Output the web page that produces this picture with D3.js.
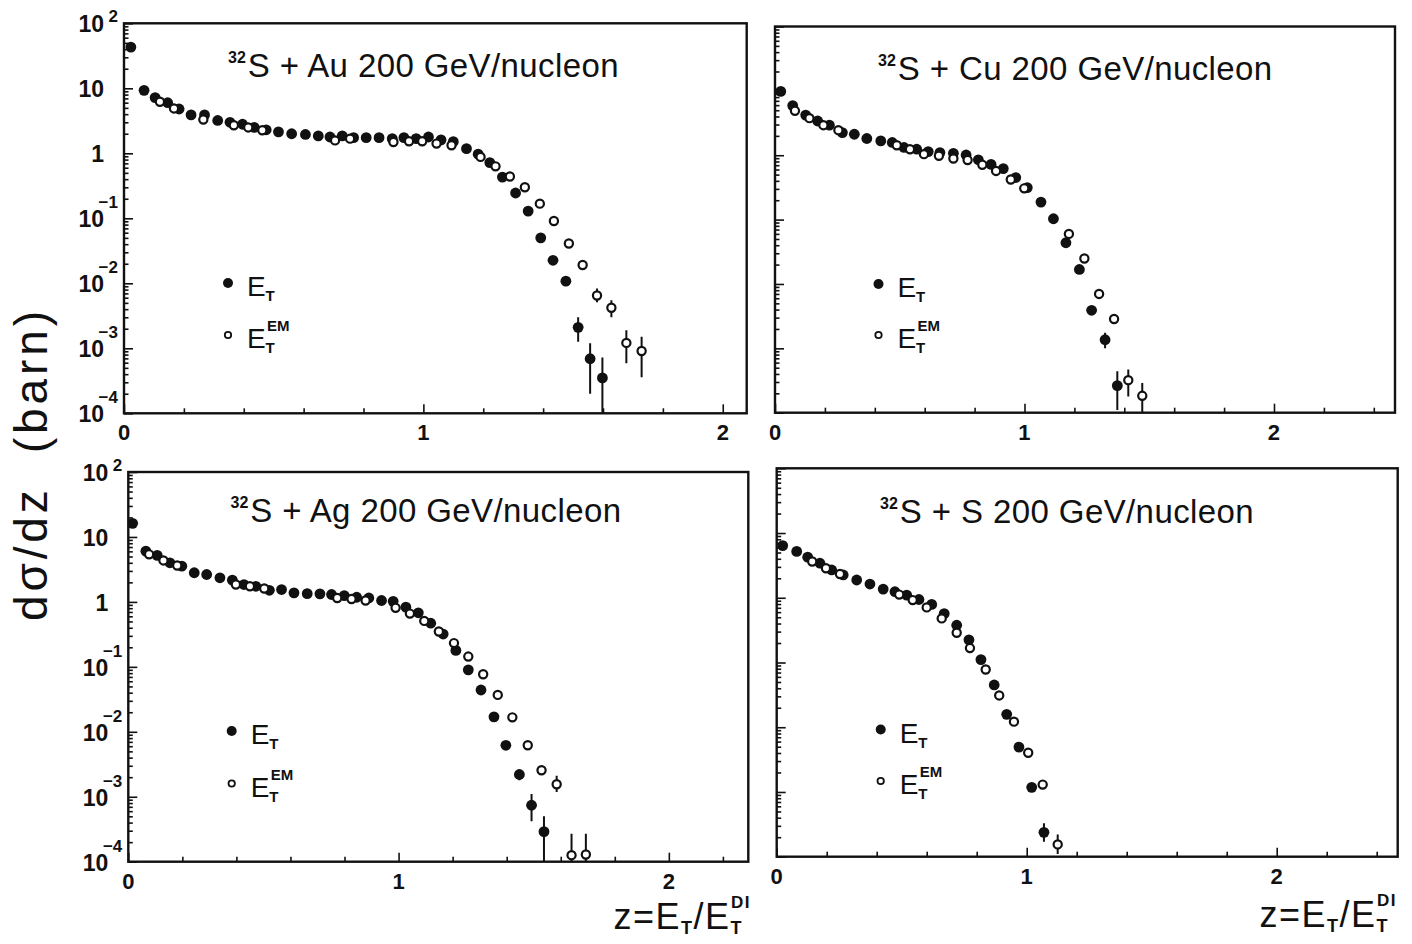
<!DOCTYPE html>
<html><head><meta charset="utf-8">
<script src="https://cdn.jsdelivr.net/npm/d3@7"></script>
<style>body{margin:0;background:#fff;} svg{display:block;}</style>
</head><body>
<svg id="c" width="1412" height="944"></svg>
<script>
// ---------------- data ----------------
const panelKeys = ["Au", "Cu", "Ag", "S"];
const panelTitles = ["S + Au 200 GeV/nucleon", "S + Cu 200 GeV/nucleon", "S + Ag 200 GeV/nucleon", "S + S 200 GeV/nucleon"];
const projectileMass = "32";
const yTickExponents = [-4, -3, -2, -1, 0, 1, 2];
const xTickValues = [0, 1, 2];
const seriesNames = ["E", "EM"];

// 32S + Au
const auEtZ = [0.023,0.067,0.104,0.146,0.184,0.224,0.269,0.313,0.354,0.396,0.435,0.475,0.516,0.56,0.606,0.649,0.688,0.729,0.767,0.809,0.852,0.896,0.935,0.976,1.017,1.059,1.1,1.144,1.183,1.222,1.264,1.308,1.35,1.392,1.433,1.476,1.517,1.557,1.598];
const auEtY = [43,9.3,7.2,6.0,4.8,3.9,3.9,3.2,3.0,2.8,2.5,2.3,2.14,2.0,1.95,1.85,1.78,1.85,1.74,1.74,1.74,1.68,1.74,1.68,1.78,1.61,1.51,1.18,0.97,0.72,0.43,0.245,0.129,0.050,0.0226,0.0108,0.0021,0.00069,0.00035];
const auEtErr = {35:[0.0094,0.0124], 36:[0.00126,0.0030], 37:[0.0002,0.0012], 38:[0.00003,0.00072]};
const auEmZ = [0.12,0.167,0.265,0.367,0.415,0.462,0.705,0.755,0.9,0.952,0.996,1.044,1.094,1.191,1.241,1.289,1.339,1.389,1.436,1.486,1.532,1.58,1.628,1.678,1.729];
const auEmY = [6.2,4.9,3.3,2.7,2.5,2.26,1.58,1.68,1.49,1.53,1.53,1.41,1.33,0.88,0.63,0.44,0.30,0.168,0.091,0.041,0.0191,0.0065,0.0042,0.00121,0.00091];
const auEmErr = {21:[0.0051,0.0083], 22:[0.0030,0.0055], 23:[0.00059,0.0019], 24:[0.00036,0.0015]};

// 32S + Cu
const cuEtZ = [0.023,0.071,0.123,0.171,0.218,0.27,0.318,0.368,0.424,0.47,0.517,0.568,0.614,0.661,0.715,0.766,0.815,0.866,0.915,0.965,1.011,1.066,1.116,1.166,1.22,1.269,1.323,1.372];
const cuEtY = [9.8,5.9,4.2,3.4,2.93,2.25,2.12,1.82,1.67,1.58,1.32,1.24,1.14,1.10,1.07,1.01,0.85,0.72,0.62,0.45,0.314,0.187,0.103,0.0437,0.0168,0.0039,0.00136,0.000264];
const cuEtErr = {26:[0.00100,0.00174], 27:[0.00011,0.00044]};
const cuEmZ = [0.08,0.138,0.194,0.254,0.488,0.541,0.597,0.657,0.715,0.772,0.831,0.886,0.945,0.999,1.178,1.24,1.299,1.359,1.416,1.472];
const cuEmY = [4.9,3.77,2.93,2.45,1.43,1.24,1.04,0.98,0.89,0.84,0.71,0.57,0.42,0.306,0.060,0.0249,0.0070,0.00286,0.00032,0.000183];
const cuEmErr = {18:[0.000178,0.00047], 19:[0.00003,0.00029]};

// 32S + Ag
const agEtZ = [0.016,0.065,0.107,0.154,0.198,0.244,0.29,0.339,0.385,0.428,0.472,0.522,0.567,0.613,0.662,0.709,0.752,0.799,0.845,0.89,0.937,0.98,1.027,1.073,1.119,1.165,1.212,1.258,1.305,1.353,1.397,1.447,1.492,1.538];
const agEtY = [16.2,6.05,5.2,4.0,3.55,2.81,2.64,2.35,2.16,1.85,1.74,1.51,1.55,1.38,1.34,1.33,1.30,1.25,1.18,1.15,1.05,1.02,0.83,0.68,0.47,0.32,0.179,0.090,0.044,0.017,0.0062,0.0022,0.00074,0.00029];
const agEtErr = {31:[0.0018,0.0026], 32:[0.00042,0.0011], 33:[0.00003,0.0005]};
const agEmZ = [0.077,0.13,0.181,0.398,0.45,0.503,0.773,0.826,0.878,0.989,1.042,1.095,1.149,1.205,1.258,1.313,1.367,1.421,1.478,1.529,1.585,1.64,1.693];
const agEmY = [5.4,4.35,3.64,1.85,1.74,1.61,1.15,1.11,1.05,0.81,0.66,0.51,0.35,0.232,0.144,0.077,0.037,0.0167,0.0062,0.00256,0.00156,0.000126,0.000129];
const agEmErr = {19:[0.0022,0.0030], 20:[0.00118,0.0021], 21:[0.00003,0.00027], 22:[0.00003,0.00027]};

// 32S + S
const sEtZ = [0.024,0.08,0.124,0.173,0.22,0.266,0.32,0.373,0.426,0.473,0.52,0.569,0.62,0.67,0.72,0.769,0.817,0.87,0.92,0.969,1.02,1.069];
const sEtY = [6.4,5.2,4.24,3.42,2.69,2.25,1.88,1.63,1.36,1.24,1.10,0.94,0.79,0.57,0.376,0.224,0.111,0.045,0.0158,0.00494,0.00118,0.000238];
const sEtErr = {21:[0.00017,0.00033]};
const sEmZ = [0.142,0.197,0.253,0.49,0.544,0.6,0.66,0.72,0.773,0.836,0.89,0.949,1.006,1.064,1.124];
const sEmY = [3.63,2.86,2.33,1.12,0.92,0.71,0.48,0.288,0.167,0.078,0.031,0.0122,0.00403,0.0013,0.000155];
const sEmErr = {14:[0.00011,0.00022]};

// ---------------- layout (positions / styles) ----------------
const layout = {
  Au: {x0:124,   x1:746.7,  xmax:2.08,  yTop:23.3,  yBot:413.3, yLabels:true,  tx:228,   ty:77,  lx:228,   ly1:283,   ly2:335,   xt:null},
  Cu: {x0:775,   x1:1395,   xmax:2.485, yTop:26.5,  yBot:412.7, yLabels:false, tx:878,   ty:80,  lx:878.5, ly1:284,   ly2:335,   xt:null},
  Ag: {x0:128.3, x1:748.3,  xmax:2.294, yTop:472,   yBot:861.7, yLabels:true,  tx:230.5, ty:522, lx:231.7, ly1:731,   ly2:783.5, xt:{r:751, y:929}},
  S:  {x0:776.7, x1:1397.7, xmax:2.484, yTop:468.3, yBot:856.7, yLabels:false, tx:880,   ty:523, lx:880.7, ly1:729.5, ly2:781,   xt:{r:1397, y:927}}
};
const seriesData = {
  Au: [[auEtZ, auEtY, auEtErr], [auEmZ, auEmY, auEmErr]],
  Cu: [[cuEtZ, cuEtY, cuEtErr], [cuEmZ, cuEmY, cuEmErr]],
  Ag: [[agEtZ, agEtY, agEtErr], [agEmZ, agEmY, agEmErr]],
  S:  [[sEtZ, sEtY, sEtErr],    [sEmZ, sEmY, sEmErr]]
};

const FONT = "'Liberation Sans', Arial, Helvetica, sans-serif";
const INK = "#111";
const svg = d3.select("#c").attr("font-family", FONT);
svg.append("rect").attr("width",1412).attr("height",944).attr("fill","#fff");

panelKeys.forEach((k, pi) => {
  const L = layout[k];
  const x = d3.scaleLinear().domain([0, L.xmax]).range([L.x0, L.x1]);
  const y = d3.scaleLog().domain([1e-4, 1e2]).range([L.yBot, L.yTop]).clamp(true);
  const g = svg.append("g");

  // y ticks (inward)
  const yMajor = yTickExponents.map(e => Math.pow(10, e));
  const yMinor = [];
  for (let e = -4; e < 2; e++) for (let m = 2; m <= 9; m++) yMinor.push(m * Math.pow(10, e));
  g.append("g").attr("transform", `translate(${L.x0},0)`)
    .call(d3.axisLeft(y).tickValues(yMinor).tickSizeInner(-4.5).tickSizeOuter(0).tickFormat(""));
  g.append("g").attr("transform", `translate(${L.x0},0)`)
    .call(d3.axisLeft(y).tickValues(yMajor).tickSizeInner(-9).tickSizeOuter(0).tickFormat(""));

  // x ticks (inward)
  const nStep = Math.floor(L.xmax * 5 + 1e-6);
  const xMinor = d3.range(1, nStep + 1).filter(i => i % 5 !== 0).map(i => i / 5);
  const xMajor = xTickValues.filter(v => v <= L.xmax);
  g.append("g").attr("transform", `translate(0,${L.yBot})`)
    .call(d3.axisBottom(x).tickValues(xMinor).tickSizeInner(-5).tickSizeOuter(0).tickFormat(""));
  g.append("g").attr("transform", `translate(0,${L.yBot})`)
    .call(d3.axisBottom(x).tickValues(xMajor).tickSizeInner(-9).tickSizeOuter(0).tickFormat(""));
  g.selectAll(".domain").remove();
  g.selectAll(".tick line").attr("stroke", INK).attr("stroke-width", 1.6);

  // frame
  g.append("rect").attr("x", L.x0).attr("y", L.yTop)
    .attr("width", L.x1 - L.x0).attr("height", L.yBot - L.yTop)
    .attr("fill", "none").attr("stroke", INK).attr("stroke-width", 2.4);

  // x tick labels
  xMajor.forEach(v => {
    g.append("text").attr("x", x(v)).attr("y", L.yBot + 27)
      .attr("text-anchor", "middle").attr("font-size", 22).attr("font-weight", "bold")
      .attr("fill", INK).text(v);
  });

  // y tick labels
  if (L.yLabels) {
    yTickExponents.forEach(e => {
      const ty = y(Math.pow(10, e));
      g.append("text").attr("x", L.x0 - 20).attr("y", ty + 9)
        .attr("text-anchor", "end").attr("font-size", 23).attr("font-weight", "bold")
        .attr("fill", INK).text(e === 0 ? "1" : "10");
      if (e !== 0 && e !== 1) {
        g.append("text").attr("x", L.x0 - 6).attr("y", ty + (e > 0 ? -1 : -10))
          .attr("text-anchor", "end").attr("font-size", 17).attr("font-weight", "bold")
          .attr("fill", INK).text(e < 0 ? "\u2212" + (-e) : String(e));
      }
    });
  }

  // title
  const tt = g.append("text").attr("x", L.tx).attr("y", L.ty).attr("fill", INK);
  tt.append("tspan").attr("font-size", 16).attr("font-weight", "bold").attr("dy", -14).text(projectileMass);
  tt.append("tspan").attr("font-size", 33).attr("dx", 2).attr("dy", 14)
    .style("letter-spacing", "0.4px").text(panelTitles[pi]);

  // data
  const clip = "clip-" + k;
  svg.append("clipPath").attr("id", clip).append("rect")
    .attr("x", L.x0).attr("y", L.yTop).attr("width", L.x1 - L.x0).attr("height", L.yBot - L.yTop);
  const dg = g.append("g").attr("clip-path", `url(#${clip})`);
  seriesData[k].forEach((s, si) => {
    const [zs, ys, errs] = s;
    const pts = zs.map((z, i) => ({z, v: ys[i], e: errs[i] || null}));
    dg.selectAll(null).data(pts.filter(p => p.e)).enter().append("line")
      .attr("x1", p => x(p.z)).attr("x2", p => x(p.z))
      .attr("y1", p => y(p.e[0])).attr("y2", p => y(p.e[1]))
      .attr("stroke", INK).attr("stroke-width", 2);
    const c = dg.selectAll(null).data(pts).enter().append("circle")
      .attr("cx", p => x(p.z)).attr("cy", p => y(p.v));
    if (si === 0) c.attr("r", 5.4).attr("fill", INK);
    else c.attr("r", 4.1).attr("fill", "#fff").attr("stroke", INK).attr("stroke-width", 2.2);
  });

  // legend
  g.append("circle").attr("cx", L.lx).attr("cy", L.ly1).attr("r", 5).attr("fill", INK);
  g.append("circle").attr("cx", L.lx).attr("cy", L.ly2).attr("r", 3.2).attr("fill", "#fff")
    .attr("stroke", INK).attr("stroke-width", 1.8);
  const ex = L.lx + 19;
  g.append("text").attr("x", ex).attr("y", L.ly1 + 13).attr("font-size", 28).attr("fill", INK).text(seriesNames[0]);
  g.append("text").attr("x", ex + 18.5).attr("y", L.ly1 + 18).attr("font-size", 15).attr("font-weight", "bold").attr("fill", INK).text("T");
  g.append("text").attr("x", ex).attr("y", L.ly2 + 13).attr("font-size", 28).attr("fill", INK).text(seriesNames[0]);
  g.append("text").attr("x", ex + 18.5).attr("y", L.ly2 + 18).attr("font-size", 15).attr("font-weight", "bold").attr("fill", INK).text("T");
  g.append("text").attr("x", ex + 20).attr("y", L.ly2 - 4).attr("font-size", 15).attr("font-weight", "bold").attr("fill", INK).text(seriesNames[1]);

  // x-axis title
  if (L.xt) {
    const xt = g.append("text").attr("x", 0).attr("y", L.xt.y).attr("font-size", 36)
      .attr("fill", INK).style("letter-spacing", "1.5px");
    xt.append("tspan").text("z=E");
    xt.append("tspan").attr("font-size", 18).attr("font-weight", "bold").attr("dy", 5).text("T");
    xt.append("tspan").attr("dy", -5).text("/E");
    xt.append("tspan").attr("font-size", 18).attr("font-weight", "bold").attr("dy", 5).text("T");
    xt.append("tspan").attr("font-size", 17).attr("font-weight", "bold").attr("dx", -12).attr("dy", -26).text("DI");
    const bb = xt.node().getBBox();
    xt.attr("x", L.xt.r - (bb.x + bb.width));
  }
});

// y-axis title
svg.append("text")
  .attr("transform", "translate(47,466) rotate(-90)")
  .attr("text-anchor", "middle").attr("font-size", 46).attr("fill", INK)
  .style("white-space", "pre")
  .attr("textLength", 310).attr("lengthAdjust", "spacing")
  .text("d\u03c3/dz  (barn)");
</script>
</body></html>
